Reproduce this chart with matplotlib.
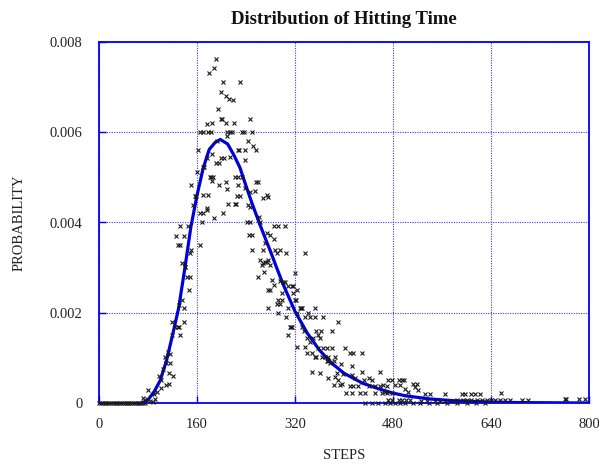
import matplotlib
matplotlib.use("Agg")
import matplotlib.pyplot as plt

plt.rcParams['font.family'] = ['Liberation Serif', 'DejaVu Serif']

# fitted curve (steps, probability)
curve_steps = [70, 80, 90, 100, 110, 120, 130, 140, 150, 160, 170, 180, 190, 198,
               210, 220, 230, 240, 250, 260, 270, 280, 290, 300, 320, 340, 360,
               380, 400, 430, 460, 480, 500, 540, 580, 620, 680, 740, 800]
curve_prob = [0.0, 0.00007, 0.00025, 0.0005, 0.00093, 0.0015, 0.0021, 0.00297,
              0.0039, 0.0046, 0.0052, 0.00562, 0.00578, 0.00584, 0.00574, 0.0055,
              0.00522, 0.00481, 0.00442, 0.00405, 0.0037, 0.00336, 0.003, 0.00265,
              0.00203, 0.00155, 0.00117, 0.00088, 0.00066, 0.00044, 0.0003, 0.00022,
              0.00016, 0.00009, 0.00005, 0.00003, 0.00001, 0.000005, 0.0]

# observed frequencies (steps, probability)
zero_pts = [(0, 0), (3, 0), (6, 0), (9, 0), (12, 0), (15, 0), (18, 0), (21, 0), (24, 0),
            (27, 0), (30, 0), (33, 0), (36, 0), (39, 0), (42, 0), (45, 0), (48, 0),
            (51, 0), (54, 0), (57, 0), (60, 0), (63, 0), (66, 0), (69, 0), (72, 0),
            (75, 0), (484, 0), (492, 0), (500, 0), (512, 0), (524, 0), (538, 0),
            (552, 0), (568, 0), (584, 0), (600, 0), (616, 0), (630, 0)]

peak_pts = [(191, 0.00762), (188, 0.00742), (180, 0.00732), (202, 0.00711), (230, 0.00711),
            (199, 0.0069), (207, 0.00681), (213, 0.00673), (218, 0.00671), (194, 0.00651),
            (199, 0.00629), (201, 0.00629), (185, 0.00621), (176, 0.00618), (207, 0.00621),
            (220, 0.00621), (247, 0.00629), (165, 0.006), (169, 0.006), (178, 0.006),
            (183, 0.006), (209, 0.006), (214, 0.006), (217, 0.006), (233, 0.006),
            (236, 0.006), (249, 0.006), (209, 0.00592), (192, 0.0058), (243, 0.00581),
            (252, 0.0057), (257, 0.0056), (162, 0.0056), (227, 0.0056), (229, 0.0056),
            (238, 0.0056), (176, 0.00542), (184, 0.00551), (199, 0.00544), (204, 0.00544),
            (214, 0.00546), (239, 0.00539), (191, 0.00531), (196, 0.00531), (170, 0.00522),
            (172, 0.00522), (160, 0.00511), (181, 0.005), (183, 0.005), (186, 0.005),
            (208, 0.0049), (222, 0.005), (227, 0.005), (233, 0.005), (257, 0.0049),
            (259, 0.0049), (151, 0.00483), (184, 0.00492), (196, 0.00483), (209, 0.00474),
            (227, 0.00482), (238, 0.00476), (247, 0.00468), (255, 0.0047), (267, 0.00454),
            (274, 0.00461), (276, 0.00457), (157, 0.00459), (159, 0.00459), (170, 0.00461),
            (178, 0.00461), (225, 0.00459), (230, 0.00459), (211, 0.0044), (222, 0.0044),
            (224, 0.0044), (244, 0.00439), (247, 0.00435), (154, 0.00439), (176, 0.00432)]

rise_pts = [(165, 0.00422), (169, 0.00422), (177, 0.00428), (202, 0.0042), (187, 0.0041),
            (132, 0.00392), (146, 0.00392), (168, 0.004), (126, 0.0037), (139, 0.0037),
            (129, 0.0035), (133, 0.0035), (165, 0.0035), (151, 0.00339), (149, 0.00332),
            (135, 0.00311), (140, 0.00302), (141, 0.00302), (143, 0.0028), (149, 0.0028),
            (147, 0.0025), (135, 0.00228), (131, 0.00217), (138, 0.0021), (119, 0.0018),
            (138, 0.0018), (124, 0.00169), (129, 0.00169), (130, 0.00169), (119, 0.00151),
            (132, 0.00151), (113, 0.00114), (116, 0.00109), (108, 0.00103), (110, 0.00088),
            (116, 0.00089), (105, 0.00075), (115, 0.00066), (120, 0.0006), (98, 0.0006),
            (102, 0.00051), (110, 0.0004), (115, 0.00042), (101, 0.00033), (94, 0.00025),
            (89, 0.00021), (80, 0.00029), (72, 0.0001), (78, 0.00008), (91, 0.00008),
            (84, 0.00005), (88, 0.00003)]

fall_pts = [(242, 0.004), (247, 0.004), (245, 0.00372), (249, 0.00372), (249, 0.0034),
            (268, 0.0034), (263, 0.00318), (268, 0.0031), (274, 0.00313), (269, 0.0029),
            (260, 0.0028), (276, 0.0025), (276, 0.00211), (261, 0.00413), (263, 0.00402),
            (285, 0.00392), (293, 0.00392), (303, 0.00392), (274, 0.00376), (279, 0.00372),
            (285, 0.00363), (271, 0.00354), (287, 0.0034), (295, 0.0034), (290, 0.00333),
            (306, 0.00332), (336, 0.00333), (271, 0.00313), (276, 0.00317), (266, 0.00306),
            (279, 0.00306), (320, 0.00289), (282, 0.00272), (296, 0.00271), (301, 0.00269),
            (303, 0.00269), (285, 0.00261), (309, 0.00259), (315, 0.00259), (317, 0.00259),
            (279, 0.0025), (323, 0.0025), (298, 0.00243), (317, 0.00243), (292, 0.00228),
            (298, 0.00228), (320, 0.00228), (322, 0.00228), (296, 0.00219), (290, 0.00219),
            (309, 0.0021), (328, 0.0021), (330, 0.0021), (331, 0.0021), (353, 0.0021),
            (293, 0.00199), (323, 0.00199), (341, 0.00199), (306, 0.0019), (336, 0.0019),
            (344, 0.0019), (353, 0.0019), (366, 0.0019), (391, 0.0018), (315, 0.00169),
            (312, 0.00169), (314, 0.00169), (331, 0.00169), (334, 0.0016), (355, 0.0016),
            (363, 0.0016), (380, 0.0016), (309, 0.00151), (358, 0.00151), (339, 0.00145),
            (350, 0.00145), (361, 0.00145), (344, 0.00136), (323, 0.00123), (336, 0.00125),
            (358, 0.00121), (366, 0.00121), (372, 0.00121), (380, 0.00121), (339, 0.00111),
            (347, 0.0011), (353, 0.00103), (355, 0.00103), (364, 0.00103), (369, 0.00103),
            (374, 0.00103), (385, 0.00103), (402, 0.00121), (410, 0.0011), (415, 0.0011),
            (430, 0.0011), (372, 0.00092), (374, 0.00092), (377, 0.00089), (384, 0.00092),
            (395, 0.00086), (413, 0.00082), (348, 0.00069), (361, 0.00066), (388, 0.00066),
            (399, 0.00064), (413, 0.00062), (429, 0.00069), (459, 0.00069), (374, 0.00055),
            (385, 0.00058), (391, 0.00051), (418, 0.00055), (440, 0.00055), (432, 0.00051),
            (445, 0.00051), (383, 0.0004), (393, 0.0004), (397, 0.00042), (410, 0.00037),
            (415, 0.00037), (423, 0.00037), (464, 0.0004), (440, 0.00037), (451, 0.00037),
            (459, 0.00037), (470, 0.00037), (404, 0.00023), (413, 0.00023), (426, 0.00023),
            (434, 0.00023), (451, 0.00023), (462, 0.00023), (470, 0.00023), (478, 0.00023),
            (434, 0.00001), (445, 0.00001), (456, 0.00001), (467, 0.00001), (475, 0.00001)]

tail_pts = [(472, 0.00052), (478, 0.00052), (489, 0.00052), (494, 0.00052), (498, 0.00052),
            (483, 0.0004), (491, 0.0004), (513, 0.00042), (519, 0.00042), (516, 0.00035),
            (521, 0.00029), (500, 0.0003), (505, 0.00025), (467, 0.00025), (532, 0.00021),
            (540, 0.00021), (565, 0.00021), (592, 0.00021), (598, 0.00021), (608, 0.00021),
            (614, 0.00021), (622, 0.00021), (657, 0.00023), (472, 0.00007), (478, 0.00007),
            (489, 0.00007), (494, 0.00007), (502, 0.00007), (507, 0.00007), (526, 0.00005),
            (535, 0.00005), (549, 0.00005), (557, 0.00005), (565, 0.00005), (576, 0.00005),
            (584, 0.00007), (595, 0.00007), (600, 0.00007), (608, 0.00007), (617, 0.00007),
            (625, 0.00007), (633, 0.00007), (640, 0.00007), (647, 0.00007), (655, 0.00007),
            (663, 0.00007), (671, 0.00007), (690, 0.00007), (701, 0.00007), (761, 0.00008),
            (763, 0.00008), (783, 0.00008), (794, 0.00008)]

x_ticks = [0, 160, 320, 480, 640, 800]
y_ticks = [0, 0.002, 0.004, 0.006, 0.008]
y_tick_labels = ['0', '0.002', '0.004', '0.006', '0.008']

title = 'Distribution of Hitting Time'
x_label = 'STEPS'
y_label = 'PROBABILITY'

BLUE = '#0000ff'

fig = plt.figure(figsize=(5.99, 4.65), dpi=100)
ax = fig.add_axes([99 / 599, 62 / 465, 490 / 599, 361 / 465])

ax.plot(curve_steps, curve_prob, color='#0000dd', linewidth=2.3, zorder=2,
        solid_capstyle='round', solid_joinstyle='round')

all_pts = zero_pts + peak_pts + rise_pts + fall_pts + tail_pts
sx = [p[0] for p in all_pts]
sy = [p[1] for p in all_pts]
ax.plot(sx, sy, linestyle='none', marker='x', markersize=3.4, markeredgewidth=0.8,
        color='#1a1a1a', zorder=3, clip_on=False)

ax.set_xlim(0, 800)
ax.set_ylim(0, 0.008)
ax.set_xticks(x_ticks)
ax.set_xticklabels([str(v) for v in x_ticks])
ax.set_yticks(y_ticks)
ax.set_yticklabels(y_tick_labels)

ax.grid(True, color='#3a3aff', linestyle=(0, (1, 1.2)), linewidth=0.8, zorder=0)
ax.set_axisbelow(True)
for s in ax.spines.values():
    s.set_color(BLUE)
    s.set_linewidth(1.3)
ax.tick_params(direction='in', length=5, width=1, color=BLUE,
               labelsize=10.5, labelcolor='#222222', top=False, right=False)
ax.tick_params(axis='x', pad=11)
ax.tick_params(axis='y', pad=12)

fig.text(344 / 599, 1 - 20 / 465, title, ha='center', va='center',
         fontsize=13.5, fontweight='bold', color='#111111')
fig.text(344 / 599, 1 - 455 / 465, x_label, ha='center', va='center',
         fontsize=10.5, color='#222222')
fig.text(19 / 599, 1 - 223 / 465, y_label, ha='center', va='center',
         rotation=90, fontsize=10.5, color='#222222')

fig.savefig('out.png', dpi=100)
